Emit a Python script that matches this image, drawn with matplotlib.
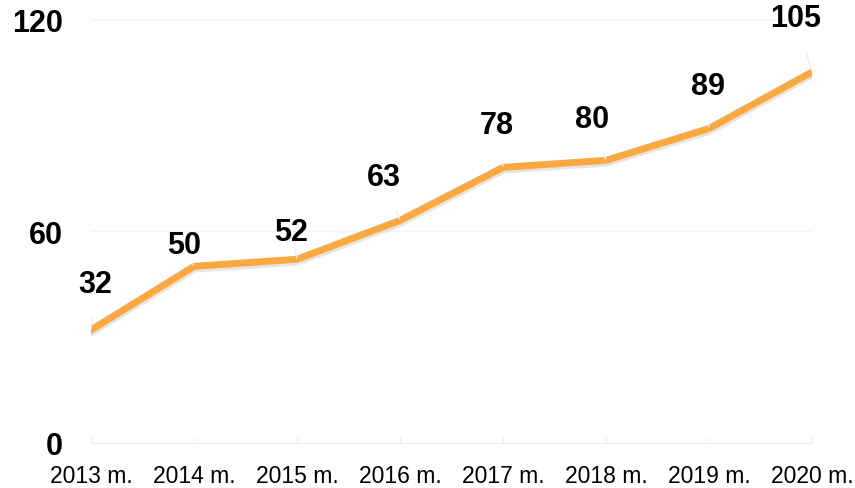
import matplotlib.pyplot as plt
import matplotlib.patheffects as pe

# --- data ---
years = ["2013 m.", "2014 m.", "2015 m.", "2016 m.", "2017 m.", "2018 m.", "2019 m.", "2020 m."]
values = [32, 50, 52, 63, 78, 80, 89, 105]
y_ticks = [0, 60, 120]

# label offsets from each point, in pixels (placed by hand in the original)
label_dx = [4, -10, -6, -16, -6, -14, -1, -16]
label_dy = [46, 21, 27, 43, 42, 41, 43, 54]

plt.rcParams['font.family'] = ['Liberation Sans', 'DejaVu Sans']

fig = plt.figure(figsize=(8.55, 4.89), dpi=100)
ax = fig.add_axes([91 / 855, 45 / 489, (812 - 91) / 855, (444 - 20) / 489])

x = list(range(len(years)))
ax.plot(x, values, color='#F9A93F', lw=5, solid_joinstyle='miter', zorder=3,
        path_effects=[pe.SimpleLineShadow(offset=(0.5, -2), shadow_color='#999999', alpha=0.25),
                      pe.Normal()])

for i, v in enumerate(values):
    ax.annotate(str(v), xy=(i, v), xytext=(label_dx[i], label_dy[i]),
                textcoords='offset pixels', ha='center', va='center',
                fontsize=22, fontweight='bold', color='black',
                arrowprops=dict(arrowstyle='-', color='#eeeeee', lw=1,
                                shrinkA=12, shrinkB=1), zorder=4)

ax.set_xlim(0, len(years) - 1)
ax.set_ylim(0, 120)
ax.set_xticks(x)
ax.set_xticklabels(years, fontsize=16.5)
ax.set_yticks(y_ticks)
ax.set_yticklabels([str(t) for t in y_ticks], fontsize=22, fontweight='bold')

ax.grid(axis='y', color='#f3f3f3', lw=1)
ax.set_axisbelow(True)
for s in ['top', 'right', 'left']:
    ax.spines[s].set_visible(False)
ax.spines['bottom'].set_color('#ececec')
ax.tick_params(axis='x', direction='in', length=4, color='#ececec', pad=15)
ax.tick_params(axis='y', length=0, pad=20)

fig.savefig('out.png', dpi=100)
